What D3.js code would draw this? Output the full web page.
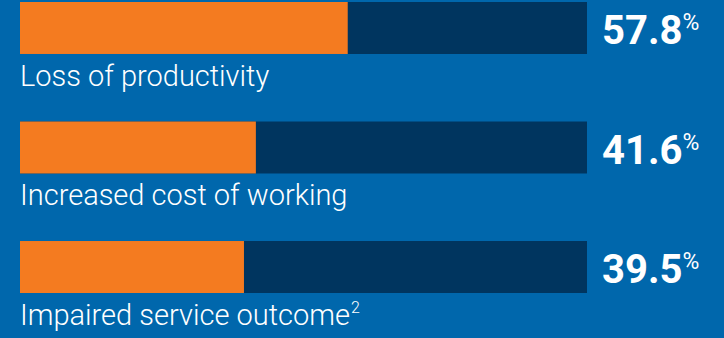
<!DOCTYPE html>
<html>
<head>
<meta charset="utf-8">
<script src="https://cdn.jsdelivr.net/npm/d3@7"></script>
<style>
  html, body { margin: 0; padding: 0; background: #0067ac; }
  svg { display: block; }
  text { font-family: Roboto, "Noto Sans", sans-serif; fill: #fff; }
</style>
</head>
<body>
<svg id="chart" width="724" height="338"></svg>
<script>
const labels = ["Loss of productivity", "Increased cost of working", "Impaired service outcome"]
const footnotes = ["", "", "2"]
const values = [57.8, 41.6, 39.5]

const svg = d3.select("#chart")

const x = d3.scaleLinear()
    .domain([0, 100])
    .range([20, 587])

const y = d3.scaleBand()
    .domain(labels)
    .range([2, 293])
    .paddingInner(0.565)
    .paddingOuter(0)

const rows = svg.selectAll(".row")
    .data(labels)
    .enter()
    .append("g")
    .attr("class", "row")

// track
rows.append("rect")
    .attr("x", x(0))
    .attr("y", d => y(d))
    .attr("width", x(100) - x(0))
    .attr("height", y.bandwidth())
    .attr("fill", "#00355f")

// value bar
rows.append("rect")
    .attr("x", x(0))
    .attr("y", d => y(d))
    .attr("width", (d, i) => x(values[i]) - x(0))
    .attr("height", y.bandwidth())
    .attr("fill", "#f47b20")

// category label
const lab = rows.append("text")
    .attr("x", x(0))
    .attr("y", d => y(d) + y.bandwidth() + 32)
    .attr("font-size", 29)
    .attr("font-weight", 300)
lab.append("tspan").text(d => d)
lab.append("tspan")
    .attr("font-size", 16)
    .attr("dy", -12)
    .attr("dx", 1)
    .text((d, i) => footnotes[i])

// value label
const val = rows.append("text")
    .attr("x", 602)
    .attr("y", d => y(d) + 42)
    .attr("font-size", 40)
    .attr("font-weight", 700)
val.append("tspan").text((d, i) => values[i].toFixed(1))
val.append("tspan")
    .attr("font-size", 23)
    .attr("font-weight", 400)
    .attr("dx", 0)
    .attr("dy", -14)
    .text("%")
</script>
</body>
</html>
